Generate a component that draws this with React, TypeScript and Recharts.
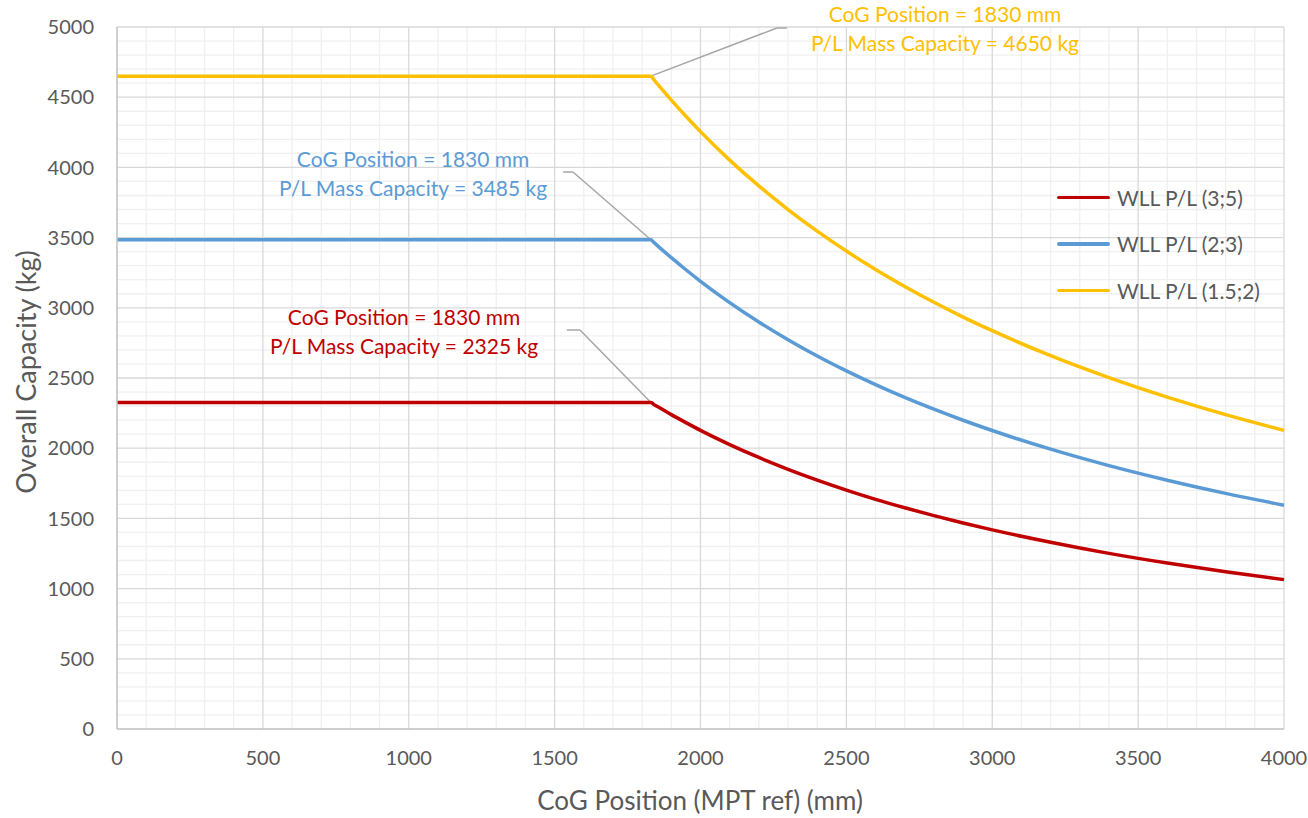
import React from "react";
import {
  LineChart,
  Line,
  XAxis,
  YAxis,
  ReferenceLine,
  ReferenceDot,
  Legend,
} from "recharts";

const cogPositions = [0, 1830, 1840, 1860, 1900, 1950, 2000, 2100, 2200, 2300, 2400, 2500, 2600, 2700, 2800, 2900, 3000, 3200, 3400, 3600, 3800, 4000];
const wll35 = [2325, 2325, 2312, 2288, 2239, 2182, 2127, 2026, 1934, 1850, 1773, 1702, 1636, 1576, 1520, 1467, 1418, 1330, 1251, 1182, 1120, 1064];
const wll23 = [3485, 3485, 3466, 3429, 3357, 3271, 3189, 3037, 2899, 2773, 2657, 2551, 2453, 2362, 2278, 2199, 2126, 1993, 1876, 1772, 1678, 1594];
const wll152 = [4650, 4650, 4625, 4575, 4479, 4364, 4255, 4052, 3868, 3700, 3546, 3404, 3273, 3152, 3039, 2934, 2837, 2659, 2503, 2364, 2239, 2127];

const xTicks = [0, 500, 1000, 1500, 2000, 2500, 3000, 3500, 4000];
const yTicks = [0, 500, 1000, 1500, 2000, 2500, 3000, 3500, 4000, 4500, 5000];
const xMinor = Array.from({ length: 41 }, (_, i) => i * 100).filter((v) => v % 500 !== 0);
const yMinor = Array.from({ length: 51 }, (_, i) => i * 100).filter((v) => v % 500 !== 0);

const seriesNames = ["WLL P/L (3;5)", "WLL P/L (2;3)", "WLL P/L (1.5;2)"];
const seriesColors = ["#c00000", "#5b9bd5", "#ffc000"];

const data = cogPositions.map((x, i) => ({
  x,
  s35: wll35[i],
  s23: wll23[i],
  s152: wll152[i],
}));

const annotations = [
  { color: "#c00000", px: 1830, py: 2325, bx: 1587, by: 2842, ex: 1542, tx: 984, ty: 2828, lines: ["CoG Position = 1830 mm", "P/L Mass Capacity = 2325 kg"] },
  { color: "#5b9bd5", px: 1830, py: 3485, bx: 1563, by: 3967, ex: 1529, tx: 1015, ty: 3956, lines: ["CoG Position = 1830 mm", "P/L Mass Capacity = 3485 kg"] },
  { color: "#ffc000", px: 1830, py: 4650, bx: 2262, by: 4993, ex: 2296, tx: 2838, ty: 4985, lines: ["CoG Position = 1830 mm", "P/L Mass Capacity = 4650 kg"] },
];

const FONT = "Lato, 'Open Sans', sans-serif";
const GRAY = "#595959";

const LegendContent = () => (
  <div style={{ fontFamily: FONT }}>
    {seriesNames.map((n, i) => (
      <div key={n} style={{ display: "flex", alignItems: "center", height: 46.5 }}>
        <div style={{ width: 53, height: 3.5, background: seriesColors[i], borderRadius: 2, marginRight: 7 }} />
        <span style={{ fontSize: 21, color: GRAY, whiteSpace: "nowrap" }}>{n}</span>
      </div>
    ))}
  </div>
);

export default function App() {
  return (
    <div style={{ position: "absolute", left: 0, top: 0, background: "#fff" }}>
      <LineChart
        width={1308}
        height={818}
        data={data}
        margin={{ top: 27, right: 24, left: 0, bottom: 0 }}
        style={{ fontFamily: FONT }}
      >
        {xMinor.map((v) => (
          <ReferenceLine key={"xm" + v} x={v} stroke="#f0f0f0" strokeWidth={1.3} />
        ))}
        {yMinor.map((v) => (
          <ReferenceLine key={"ym" + v} y={v} stroke="#f0f0f0" strokeWidth={1.3} />
        ))}
        {xTicks.slice(1).map((v) => (
          <ReferenceLine key={"xM" + v} x={v} stroke="#d9d9d9" strokeWidth={1.3} />
        ))}
        {yTicks.slice(1).map((v) => (
          <ReferenceLine key={"yM" + v} y={v} stroke="#d9d9d9" strokeWidth={1.3} />
        ))}
        <XAxis
          dataKey="x"
          type="number"
          domain={[0, 4000]}
          ticks={xTicks}
          interval={0}
          height={89}
          tickSize={0}
          tickMargin={22}
          axisLine={{ stroke: "#bfbfbf", strokeWidth: 1.5 }}
          tick={{ fill: GRAY, fontSize: 20 }}
          label={(props: any) => (
            <text x={700} y={800} textAnchor="middle" dominantBaseline="central" fill={GRAY} fontSize={26} fontFamily={FONT}>
              CoG Position (MPT ref) (mm)
            </text>
          )}
        />
        <YAxis
          type="number"
          domain={[0, 5000]}
          ticks={yTicks}
          interval={0}
          width={117}
          tickSize={0}
          tickMargin={23}
          axisLine={{ stroke: "#bfbfbf", strokeWidth: 1.5 }}
          tick={{ fill: GRAY, fontSize: 20 }}
          label={(props: any) => (
            <text x={25} y={372} transform="rotate(-90, 25, 372)" textAnchor="middle" dominantBaseline="central" fill={GRAY} fontSize={27} fontFamily={FONT}>
              Overall Capacity (kg)
            </text>
          )}
        />
        {annotations.map((a, i) => (
          <ReferenceLine
            key={"la" + i}
            segment={[{ x: a.px, y: a.py }, { x: a.bx, y: a.by }]}
            stroke="#a6a6a6"
            strokeWidth={1.5}
            ifOverflow="visible"
          />
        ))}
        {annotations.map((a, i) => (
          <ReferenceLine
            key={"lb" + i}
            segment={[{ x: a.bx, y: a.by }, { x: a.ex, y: a.by }]}
            stroke="#a6a6a6"
            strokeWidth={1.5}
            ifOverflow="visible"
          />
        ))}
        <Line dataKey="s35" name={seriesNames[0]} stroke={seriesColors[0]} strokeWidth={3.5} dot={false} type="monotone" isAnimationActive={false} />
        <Line dataKey="s23" name={seriesNames[1]} stroke={seriesColors[1]} strokeWidth={3.5} dot={false} type="monotone" isAnimationActive={false} />
        <Line dataKey="s152" name={seriesNames[2]} stroke={seriesColors[2]} strokeWidth={3.5} dot={false} type="monotone" isAnimationActive={false} />
        {annotations.map((a, i) => (
          <ReferenceDot
            key={"t" + i}
            x={a.tx}
            y={a.ty}
            r={0}
            ifOverflow="visible"
            shape={(p: any) => (
              <text x={p.cx} y={p.cy} textAnchor="middle" fill={a.color} fontSize={21} fontFamily={FONT}>
                <tspan x={p.cx} dy={-7}>{a.lines[0]}</tspan>
                <tspan x={p.cx} dy={29}>{a.lines[1]}</tspan>
              </text>
            )}
          />
        ))}
        <Legend
          content={<LegendContent />}
          wrapperStyle={{ position: "absolute", left: 1057, top: 174, width: 240, height: 0, overflow: "visible" }}
        />
      </LineChart>
    </div>
  );
}
